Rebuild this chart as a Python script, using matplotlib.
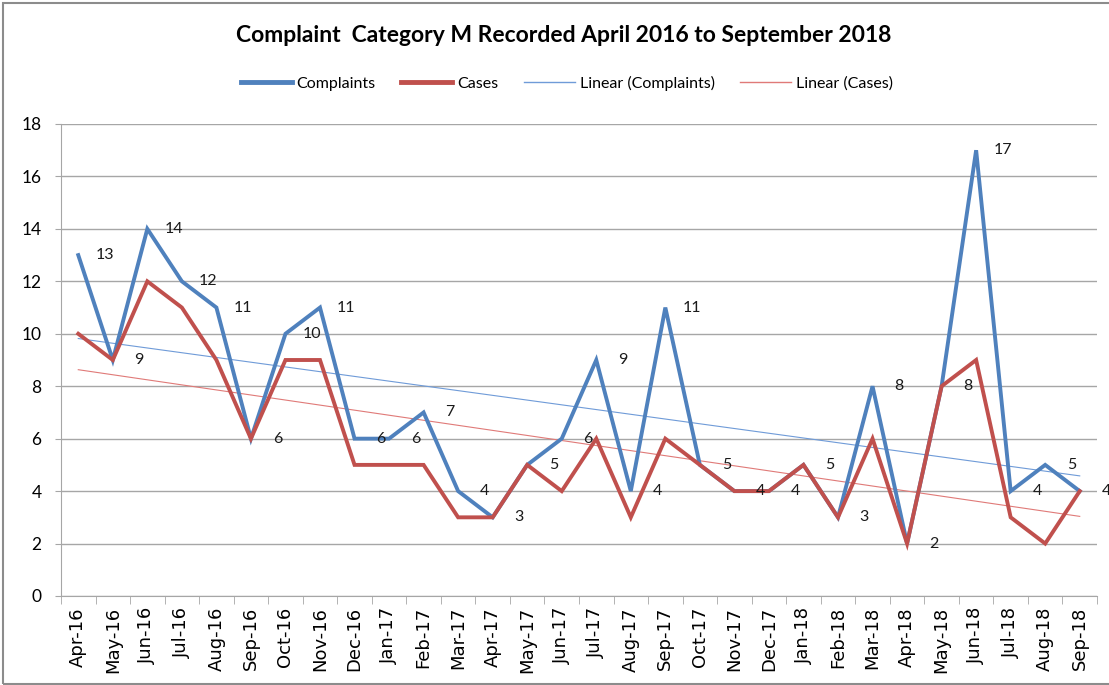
import numpy as np
import matplotlib
matplotlib.use("Agg")
import matplotlib.pyplot as plt
from matplotlib.lines import Line2D
from matplotlib.patches import Rectangle

months = ["Apr-16", "May-16", "Jun-16", "Jul-16", "Aug-16", "Sep-16", "Oct-16", "Nov-16",
          "Dec-16", "Jan-17", "Feb-17", "Mar-17", "Apr-17", "May-17", "Jun-17", "Jul-17",
          "Aug-17", "Sep-17", "Oct-17", "Nov-17", "Dec-17", "Jan-18", "Feb-18", "Mar-18",
          "Apr-18", "May-18", "Jun-18", "Jul-18", "Aug-18", "Sep-18"]
complaints = [13, 9, 14, 12, 11, 6, 10, 11, 6, 6, 7, 4, 3, 5, 6, 9, 4, 11, 5, 4, 4, 5, 3, 8, 2, 8, 17, 4, 5, 4]
cases = [10, 9, 12, 11, 9, 6, 9, 9, 5, 5, 5, 3, 3, 5, 4, 6, 3, 6, 5, 4, 4, 5, 3, 6, 2, 8, 9, 3, 2, 4]

BLUE = "#4F81BD"
RED = "#C0504D"
LFONT = "Lato"

fig = plt.figure(figsize=(11.09, 6.85), dpi=100)
ax = fig.add_axes([61/1109, 1 - 596/685, (1097 - 61)/1109, (596 - 124)/685])

x = np.arange(len(months))
ax.plot(x, complaints, color=BLUE, lw=2.8, solid_joinstyle="miter", zorder=4)
ax.plot(x, cases, color=RED, lw=2.8, solid_joinstyle="miter", zorder=5)

pc = np.polyfit(x, complaints, 1)
pk = np.polyfit(x, cases, 1)
ax.plot(x, np.polyval(pc, x), color="#6F9BD8", lw=0.8, zorder=3)
ax.plot(x, np.polyval(pk, x), color="#E07A78", lw=0.8, zorder=3)

for xi, v in zip(x, complaints):
    ax.annotate(str(v), (xi, v), xytext=(19, 0), textcoords="offset points",
                ha="center", va="center", fontsize=11.5, family=LFONT, color="#1a1a1a", zorder=6)

ax.set_xlim(-0.5, len(months) - 0.5)
ax.set_ylim(0, 18)
ax.set_yticks(range(0, 19, 2))
ax.set_yticklabels([str(v) for v in range(0, 19, 2)], fontsize=12.5, family=LFONT)
ax.yaxis.grid(True, color="#A6A6A6", lw=1)
ax.set_axisbelow(True)
ax.tick_params(axis="y", length=4, color="#A6A6A6", pad=10)

ax.set_xticks(x)
ax.set_xticklabels(months, rotation=90, fontsize=13, family="DejaVu Sans")
ax.set_xticks(np.arange(-0.5, len(months), 1), minor=True)
ax.tick_params(axis="x", which="major", length=0, pad=8)
ax.tick_params(axis="x", which="minor", length=6, color="#A6A6A6")

for s in ["top", "right"]:
    ax.spines[s].set_visible(False)
ax.spines["left"].set_color("#A6A6A6")
ax.spines["bottom"].set_color("#A6A6A6")

fig.text(564/1109, 1 - 36/685, "Complaint  Category M Recorded April 2016 to September 2018",
         ha="center", va="center", fontsize=16.5, fontweight="bold", family=LFONT)

handles = [Line2D([], [], color=BLUE, lw=3.5),
           Line2D([], [], color=RED, lw=3.5),
           Line2D([], [], color="#6F9BD8", lw=1),
           Line2D([], [], color="#E07A78", lw=1)]
labels = ["Complaints", "Cases", "Linear (Complaints)", "Linear (Cases)"]
fig.legend(handles, labels, loc="center", bbox_to_anchor=(567/1109, 1 - 83/685), ncol=4,
           frameon=False, prop={"family": LFONT, "size": 11.5}, handlelength=3.2,
           columnspacing=1.6, handletextpad=0.3)

fig.patches.append(Rectangle((3/1109, 0.002), 1.2, 1 - 3/685 - 0.002, transform=fig.transFigure,
                             fill=False, edgecolor="#8C8C8C", lw=1.5))

fig.savefig("out.png", dpi=100)
